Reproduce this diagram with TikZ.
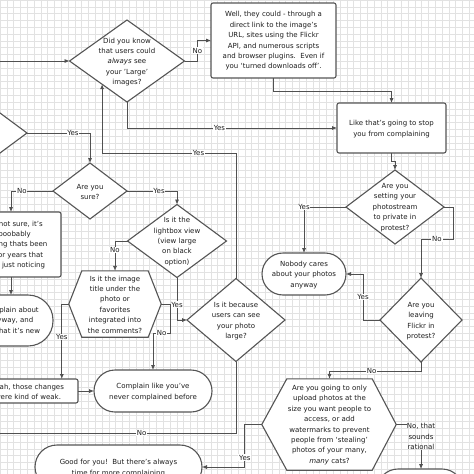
\documentclass[tikz,border=0pt]{standalone}
\usepackage{fontspec}
\setmainfont{DejaVu Sans}
\usetikzlibrary{shapes.geometric,arrows.meta,calc}
\definecolor{edgec}{RGB}{85,85,85}
\definecolor{conc}{RGB}{80,80,80}
\definecolor{txtc}{RGB}{30,30,30}
\definecolor{gridc}{RGB}{226,226,226}
\begin{document}
\begin{tikzpicture}[x=1pt,y=-1pt,
  font=\fontsize{7}{10.4}\selectfont,
  shp/.style={draw=edgec, line width=1.1pt, fill=white},
  dia/.style={shp, diamond, inner sep=0pt, outer sep=0pt},
  rbox/.style={shp, rectangle, rounded corners=2pt, inner sep=0pt, outer sep=0pt},
  txt/.style={align=center, inner sep=0pt, text=txtc},
  con/.style={draw=conc, line width=0.9pt},
  arr/.style={con, -{Latex[length=5pt,width=4.2pt]}},
  lbl/.style={fill=white, inner sep=0.8pt, text=txtc},
  gridline/.style={draw=gridc, line width=0.4pt},
]
\useasboundingbox (0,0) rectangle (474,474);
\clip (0,0) rectangle (474,474);
\fill[white] (0,0) rectangle (474,474);
\foreach \k in {0,...,70} {
  \draw[gridline] (\k*6.8,0) -- (\k*6.8,474);
  \draw[gridline] (0,\k*6.8) -- (474,\k*6.8);
}

% ---------- shapes ----------
\node[dia, minimum width=115pt, minimum height=82pt] (D1) at (127,61) {};
\node[txt] (D1t) at (127,62) {Did you know\\that users could\\\textit{always} see\\your 'Large'\\images?};

\node[rbox, minimum width=125pt, minimum height=75pt] (B1) at (273.5,40.5) {};
\node[txt] (B1t) at (273.5,41) {Well, they could - through a\\direct link to the image's\\URL, sites using the Flickr\\API, and numerous scripts\\and browser plugins.\ \ Even if\\you `turned downloads off'.};

\node[rbox, minimum width=109pt, minimum height=50pt] (B2) at (391.5,128) {};
\node[txt] (B2t) at (391.5,129) {Like that's going to stop\\you from complaining};

\node[dia, minimum width=98pt, minimum height=74pt] (D2) at (395,207) {};
\node[txt] (D2t) at (395,207.5) {Are you\\setting your\\photostream\\to private in\\protest?};

\node[rbox, rounded corners=21pt, minimum width=84pt, minimum height=42pt] (S1) at (304,274) {};
\node[txt] (S1t) at (304,275) {Nobody cares\\about your photos\\anyway};

\node[dia, minimum width=82pt, minimum height=84pt] (D3) at (421,320) {};
\node[txt] (D3t) at (421,321) {Are you\\leaving\\Flickr in\\protest?};

% hexagon H1
\node[inner sep=0pt, minimum width=85pt, minimum height=91pt] (H1) at (329.5,424.5) {};
\coordinate (H1e) at ($(H1.east)+(24,0)$);
\coordinate (H1w) at ($(H1.west)+(-25,0)$);
\draw[shp] (H1.north west) -- (H1.north east) -- (H1e) -- (H1.south east) -- (H1.south west) -- (H1w) -- cycle;
\node[txt] (H1t) at (329.5,425) {Are you going to only\\upload photos at the\\size you want people to\\access, or add\\watermarks to prevent\\people from `stealing'\\photos of your many,\\\textit{many} cats?};

\node[rbox, rounded corners=21pt, minimum width=86pt, minimum height=42pt] (S5) at (420,490) {};

\node[rbox, rounded corners=22pt, minimum width=167pt, minimum height=44pt] (S2) at (118.5,467) {};
\node[txt] (S2t) at (118.5,468) {Good for you!\ \ But there's always\\time for more complaining};

\node[dia, minimum width=98pt, minimum height=83pt] (D4) at (236,320) {};
\node[txt] (D4t) at (236,321) {Is it because\\users can see\\your photo\\large?};

\node[dia, minimum width=99pt, minimum height=73pt] (D5) at (177,241) {};
\node[txt] (D5t) at (177,241.5) {Is it the\\lightbox view\\(view large\\on black\\option)};

\node[dia, minimum width=74pt, minimum height=56pt] (D6) at (90,191) {};
\node[txt] (D6t) at (90,192) {Are you\\sure?};

\node[dia, minimum width=108pt, minimum height=80pt] (D0) at (-27,133) {};

% hexagon H2
\node[inner sep=0pt, minimum width=66pt, minimum height=66pt] (H2) at (115,304) {};
\coordinate (H2e) at ($(H2.east)+(13,0)$);
\coordinate (H2w) at ($(H2.west)+(-13,0)$);
\draw[shp] (H2.north west) -- (H2.north east) -- (H2e) -- (H2.south east) -- (H2.south west) -- (H2w) -- cycle;
\node[txt] (H2t) at (115,304.5) {Is it the image\\title under the\\photo or\\favorites\\integrated into\\the comments?};

\node[rbox, minimum width=100pt, minimum height=65pt] (B3) at (11,244.5) {};
\node[txt] (B3t) at (9,245) {You're not sure, it's\\proooobably\\something thats been\\there for years that\\you're - just noticing};

\node[rbox, rounded corners=25pt, minimum width=84pt, minimum height=51pt] (S3) at (11,320.5) {};
\node[txt] (S3t) at (11,321) {Complain about\\anyway, and\\say that it's new};

\node[rbox, minimum width=100pt, minimum height=24pt] (B4) at (28,391) {};
\node[txt] (B4t) at (28,392) {Yeah, those changes\\were kind of weak.};

\node[rbox, rounded corners=21pt, minimum width=118pt, minimum height=42pt] (S4) at (153,391) {};
\node[txt] (S4t) at (153,392) {Complain like you've\\never complained before};

\node[txt] (NR) at (421,436.5) {No, that\\sounds\\rational};

% ---------- connectors ----------
\coordinate (in1) at (0,61);
\draw[arr] (in1) -- (D1.west);
\draw[arr] (D1.east) -- ++(13,0) |- node[lbl,pos=0.25]{No} (B1.west);
\draw[arr] (B1.south) -- ++(0,13) -| (B2.north);
\draw[arr] (D1.south) |- node[lbl,pos=0.72]{Yes} (B2.west);
\draw[arr] (B2.south) -- ++(0,8) -| (D2.north);
\draw[arr] (D2.west) -| node[lbl,pos=0.5]{Yes} (S1.north);
\draw[arr] (D2.east) -- ++(9,0) -- ++(0,32) -| node[lbl,pos=0.25]{No} (D3.north);
\draw[arr] (D3.west) -- ++(-17,0) |- node[lbl,pos=0.25]{Yes} (S1.east);
\draw[arr] (D3.south) -- ++(0,9) -| node[lbl,pos=0.27]{No} (H1.north);
\draw[con] (H1e) -- (H1e -| NR.west);
\draw[arr] (NR.south) -- (NR.south |- S5.north);
\draw[arr] (H1w) -- ++(-17,0) |- node[lbl,pos=0.39]{Yes} (S2.east);
\coordinate (out12) at (0,433);
\draw[con] (D4.south) |- node[lbl,pos=0.7]{No} (out12);
\coordinate (row13) at (0,153);
\draw[arr] (D4.north) -- (D4.north |- row13) -- node[lbl,pos=0.28]{Yes} (D1.223 |- row13) -- (D1.223);
\draw[arr] (D5.south) |- node[lbl,pos=0.32]{Yes} (D4.west);
\draw[arr] (H2e) -- ++(9,0) -- ++(0,29) -| node[lbl,pos=0.25]{No} (S4.north);
\draw[arr] (D5.west) -| node[lbl,pos=0.65]{No} (H2.north);
\coordinate (c17) at ($(H2w)+(-7,0)$);
\draw[arr] (H2w) -| node[lbl,pos=0.72]{Yes} (c17 |- B4.north);
\draw[arr] (B4.east) -- (S4.west);
\draw[arr] (D6.east) -| node[lbl,pos=0.32]{Yes} (D5.north);
\draw[arr] (D6.west) -| node[lbl,pos=0.37]{No} (B3.north);
\draw[arr] (D0.east) -| node[lbl,pos=0.365]{Yes} (D6.north);
\draw[arr] (B3.south) -- (B3.south |- S3.north);
\end{tikzpicture}
\end{document}
